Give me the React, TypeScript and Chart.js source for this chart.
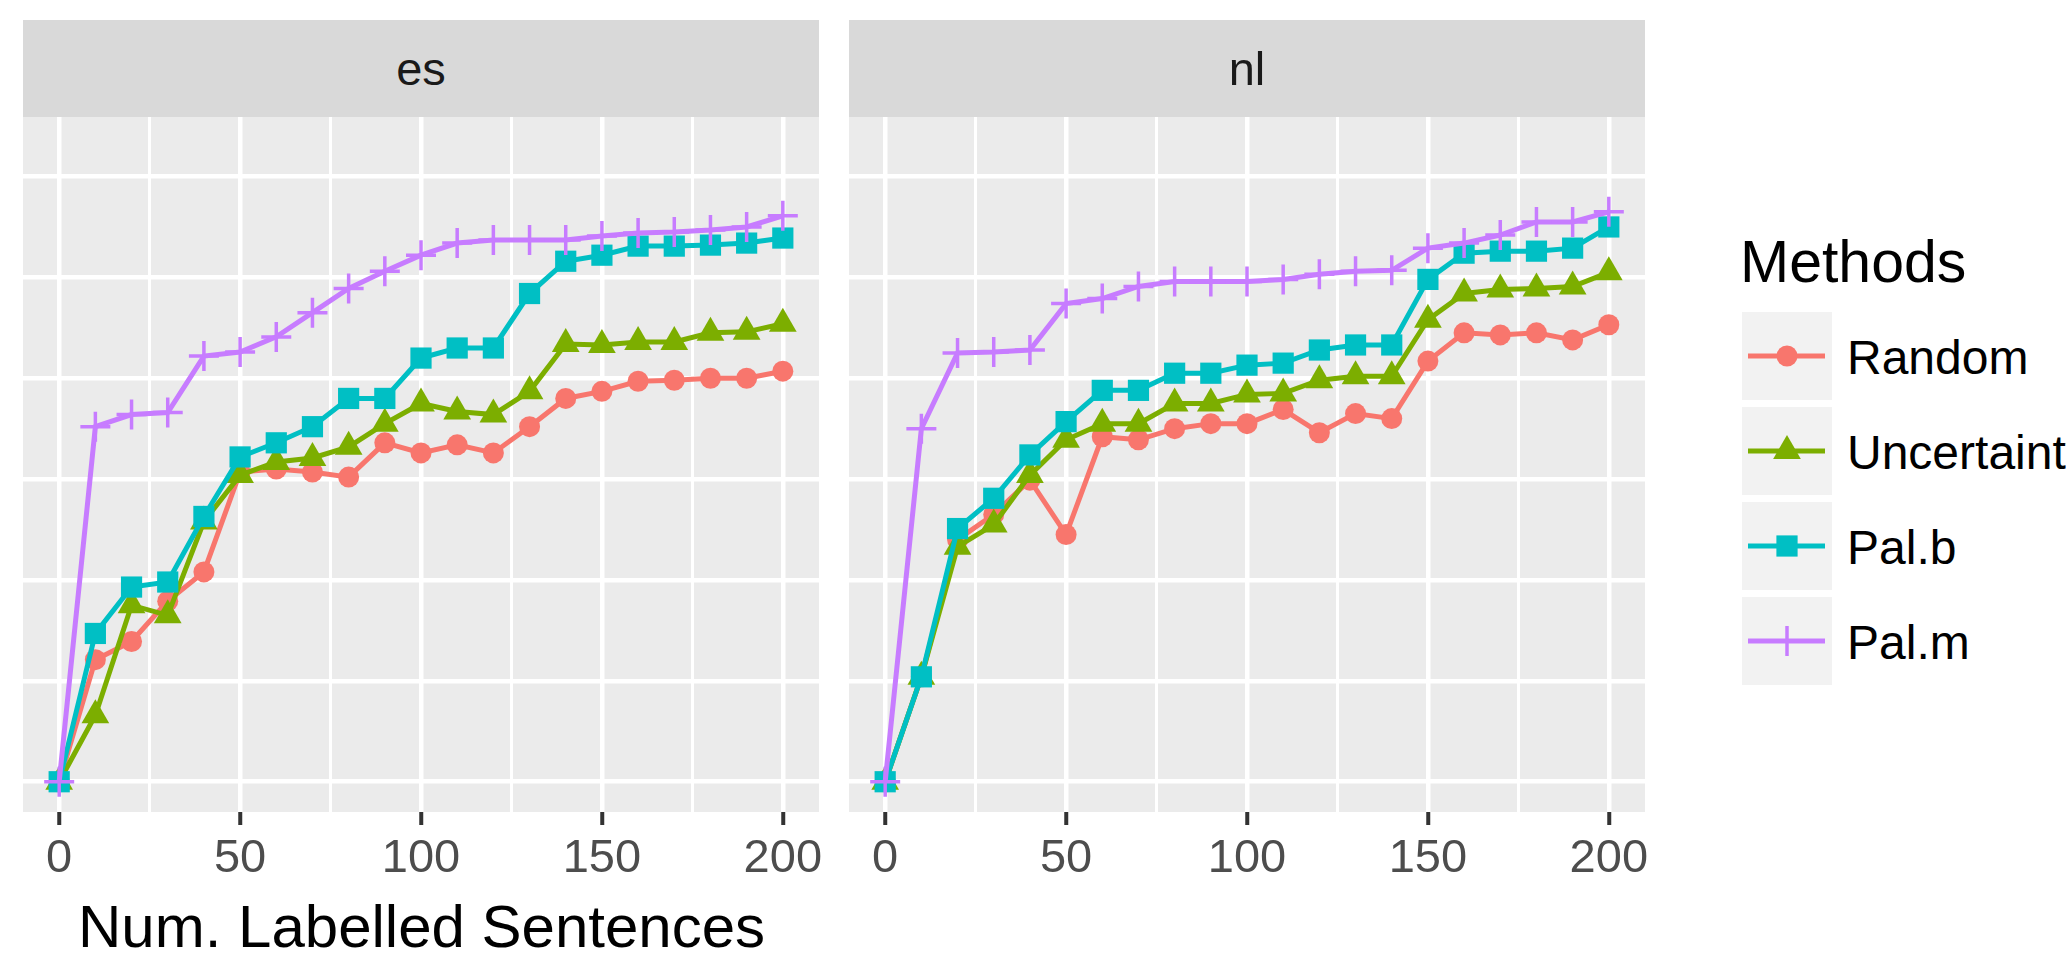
import React, { useEffect, useRef } from "react";
import { Chart, registerables } from "chart.js";

Chart.register(...registerables);

// ---------------- data ----------------
const sentences = [0, 10, 20, 30, 40, 50, 60, 70, 80, 90, 100, 110, 120, 130, 140, 150, 160, 170, 180, 190, 200];

const esRandom = [0, 1.21, 1.39, 1.79, 2.08, 3.07, 3.10, 3.07, 3.02, 3.36, 3.26, 3.34, 3.26, 3.52, 3.80, 3.87, 3.97, 3.98, 4.00, 4.00, 4.07];
const esUncertainty = [0, 0.66, 1.75, 1.65, 2.58, 3.04, 3.17, 3.21, 3.32, 3.55, 3.75, 3.67, 3.64, 3.87, 4.34, 4.33, 4.36, 4.36, 4.45, 4.46, 4.54];
const esPalB = [0, 1.47, 1.93, 1.98, 2.63, 3.22, 3.36, 3.52, 3.80, 3.80, 4.20, 4.30, 4.30, 4.84, 5.16, 5.22, 5.31, 5.31, 5.32, 5.34, 5.39];
const esPalM = [0, 3.52, 3.64, 3.66, 4.22, 4.26, 4.41, 4.65, 4.89, 5.06, 5.22, 5.34, 5.37, 5.37, 5.37, 5.41, 5.44, 5.45, 5.47, 5.50, 5.61];

const nlRandom = [0, 1.04, 2.40, 2.65, 2.99, 2.45, 3.42, 3.39, 3.50, 3.55, 3.55, 3.69, 3.46, 3.65, 3.60, 4.17, 4.45, 4.43, 4.45, 4.38, 4.53];
const nlUncertainty = [0, 1.04, 2.33, 2.55, 3.04, 3.39, 3.55, 3.55, 3.75, 3.75, 3.84, 3.85, 3.98, 4.02, 4.02, 4.58, 4.84, 4.88, 4.89, 4.91, 5.05];
const nlPalB = [0, 1.04, 2.51, 2.81, 3.24, 3.57, 3.88, 3.88, 4.05, 4.05, 4.13, 4.15, 4.28, 4.33, 4.33, 4.98, 5.24, 5.26, 5.26, 5.29, 5.50];
const nlPalM = [0, 3.50, 4.25, 4.26, 4.28, 4.74, 4.79, 4.91, 4.96, 4.96, 4.96, 4.98, 5.03, 5.06, 5.07, 5.29, 5.34, 5.42, 5.55, 5.55, 5.65];

const facetNames = ["es", "nl"];
const facetSeries = [
  [esRandom, esUncertainty, esPalB, esPalM],
  [nlRandom, nlUncertainty, nlPalB, nlPalM],
];

const methods = ["Random", "Uncertainty", "Pal.b", "Pal.m"];
const legendTitle = "Methods";
const xAxisTitle = "Num. Labelled Sentences";

const xTicks = [0, 25, 50, 75, 100, 125, 150, 175, 200];
const xTickLabels = ["0", "", "50", "", "100", "", "150", "", "200"];
const yTicks = [0, 1, 2, 3, 4, 5, 6];

// ---------------- styles ----------------
const methodColors = ["#F8766D", "#7CAE00", "#00BFC4", "#C77CFF"];
const methodShapes = ["circle", "triangle", "rect", "cross"];
const markerRadii = [10.5, 16, 15, 15];

const FONT = '"Liberation Sans", Arial, Helvetica, sans-serif';
const SMALL = 47;
const LEGEND_TXT = 48;
const BIG = 60;

const PANEL_LEFTS = [23, 849];
const PANEL_W = 796;
const PANEL_TOP = 117;
const PANEL_H = 695;
const STRIP_TOP = 20;
const PAD_X = 50;
const PAD_TOP = 20;
const AXIS_H = 80;

const panelBg = {
  id: "panelBg",
  beforeDraw(chart: any) {
    const { ctx, chartArea } = chart;
    ctx.save();
    ctx.fillStyle = "#EBEBEB";
    ctx.fillRect(chartArea.left, chartArea.top, chartArea.right - chartArea.left, chartArea.bottom - chartArea.top);
    ctx.restore();
  },
};

function Panel({ series, left }: { series: number[][]; left: number }) {
  const ref = useRef<HTMLCanvasElement | null>(null);
  const cw = PANEL_W + 2 * PAD_X;
  const ch = PAD_TOP + PANEL_H + AXIS_H;

  useEffect(() => {
    if (!ref.current) return;
    const chart = new Chart(ref.current, {
      type: "line",
      data: {
        datasets: series.map((vals, i) => ({
          label: methods[i],
          data: sentences.map((x, j) => ({ x, y: vals[j] })),
          borderColor: methodColors[i],
          backgroundColor: methodColors[i],
          borderWidth: 5,
          tension: 0,
          pointStyle: methodShapes[i] as any,
          pointRadius: markerRadii[i],
          pointHoverRadius: markerRadii[i],
          pointBackgroundColor: methodColors[i],
          pointBorderColor: methodColors[i],
          pointBorderWidth: methodShapes[i] === "cross" ? 3.5 : 0,
          order: methods.length - 1 - i,
        })),
      },
      options: {
        animation: false,
        responsive: false,
        maintainAspectRatio: false,
        events: [],
        layout: { autoPadding: false, padding: { left: PAD_X, right: PAD_X, top: PAD_TOP, bottom: 0 } },
        plugins: { legend: { display: false }, tooltip: { enabled: false }, title: { display: false } },
        scales: {
          x: {
            type: "linear",
            min: -10,
            max: 210,
            afterBuildTicks: (s: any) => {
              s.ticks = xTicks.map((v) => ({ value: v }));
            },
            afterFit: (s: any) => {
              s.height = AXIS_H;
            },
            border: { display: false },
            grid: {
              color: "#FFFFFF",
              lineWidth: (c: any) => (xTickLabels[xTicks.indexOf(c.tick?.value)] ? 4.5 : 3),
              drawTicks: true,
              tickLength: 13,
              tickWidth: 4,
              tickColor: (c: any) => (xTickLabels[xTicks.indexOf(c.tick?.value)] ? "#333333" : "rgba(0,0,0,0)"),
            },
            ticks: {
              autoSkip: false,
              maxRotation: 0,
              minRotation: 0,
              padding: 6,
              color: "#4D4D4D",
              font: { family: FONT, size: SMALL },
              callback: (value: any) => xTickLabels[xTicks.indexOf(Number(value))] ?? "",
            },
          },
          y: {
            type: "linear",
            min: -0.3,
            max: 6.59,
            afterBuildTicks: (s: any) => {
              s.ticks = yTicks.map((v) => ({ value: v }));
            },
            afterFit: (s: any) => {
              s.width = 0;
            },
            border: { display: false },
            grid: { color: "#FFFFFF", lineWidth: 4.5, drawTicks: false },
            ticks: { display: false },
          },
        },
      } as any,
      plugins: [panelBg],
    });
    return () => chart.destroy();
  }, [series]);

  return (
    <canvas
      ref={ref}
      width={cw}
      height={ch}
      style={{ position: "absolute", left: left - PAD_X, top: PANEL_TOP - PAD_TOP, width: cw, height: ch }}
    />
  );
}

function KeyGlyph({ i }: { i: number }) {
  const color = methodColors[i];
  const cx = 45;
  const cy = 44;
  const shape = methodShapes[i];
  const r = markerRadii[i];
  let mark: any = null;
  if (shape === "circle") mark = <circle cx={cx} cy={cy} r={r} fill={color} />;
  else if (shape === "triangle") {
    const dx = r * Math.sin((2 * Math.PI) / 3);
    const dy = -r * Math.cos((2 * Math.PI) / 3);
    mark = <polygon points={`${cx},${cy - r} ${cx + dx},${cy + dy} ${cx - dx},${cy + dy}`} fill={color} />;
  } else if (shape === "rect") {
    const h = r * Math.SQRT1_2;
    mark = <rect x={cx - h} y={cy - h} width={2 * h} height={2 * h} fill={color} />;
  } else {
    mark = (
      <g stroke={color} strokeWidth={3.5}>
        <line x1={cx} y1={cy - r} x2={cx} y2={cy + r} />
        <line x1={cx - r} y1={cy} x2={cx + r} y2={cy} />
      </g>
    );
  }
  return (
    <svg width={90} height={88} style={{ position: "absolute", left: 0, top: 0 }}>
      <rect x={0} y={0} width={90} height={88} fill="#F2F2F2" />
      <line x1={6} y1={cy} x2={83} y2={cy} stroke={color} strokeWidth={5} />
      {mark}
    </svg>
  );
}

export default function App() {
  return (
    <div
      style={{
        position: "absolute",
        left: 0,
        top: 0,
        width: 2066,
        height: 959,
        overflow: "hidden",
        background: "#FFFFFF",
        fontFamily: FONT,
      }}
    >
      {facetNames.map((name, k) => (
        <React.Fragment key={name}>
          <div
            style={{
              position: "absolute",
              left: PANEL_LEFTS[k],
              top: STRIP_TOP,
              width: PANEL_W,
              height: PANEL_TOP - STRIP_TOP,
              background: "#D9D9D9",
            }}
          >
            <div
              style={{
                position: "absolute",
                left: 0,
                width: "100%",
                top: 85 - STRIP_TOP - 0.8465 * SMALL,
                textAlign: "center",
                fontSize: SMALL,
                lineHeight: `${SMALL}px`,
                color: "#1A1A1A",
                whiteSpace: "nowrap",
              }}
            >
              {name}
            </div>
          </div>
          <Panel series={facetSeries[k]} left={PANEL_LEFTS[k]} />
        </React.Fragment>
      ))}

      <div
        style={{
          position: "absolute",
          left: 78,
          top: 947.5 - 0.8465 * BIG,
          fontSize: BIG,
          lineHeight: `${BIG}px`,
          color: "#000000",
          whiteSpace: "nowrap",
        }}
      >
        {xAxisTitle}
      </div>

      <div
        style={{
          position: "absolute",
          left: 1740,
          top: 283.3 - 0.8465 * 59,
          fontSize: 59,
          lineHeight: "59px",
          color: "#000000",
          whiteSpace: "nowrap",
        }}
      >
        {legendTitle}
      </div>
      {methods.map((m, i) => (
        <React.Fragment key={m}>
          <div style={{ position: "absolute", left: 1742, top: 312 + 95 * i, width: 90, height: 88 }}>
            <KeyGlyph i={i} />
          </div>
          <div
            style={{
              position: "absolute",
              left: 1847,
              top: 374.5 + 95 * i - 0.8465 * LEGEND_TXT,
              fontSize: LEGEND_TXT,
              lineHeight: `${LEGEND_TXT}px`,
              color: "#000000",
              whiteSpace: "nowrap",
            }}
          >
            {m}
          </div>
        </React.Fragment>
      ))}
    </div>
  );
}
